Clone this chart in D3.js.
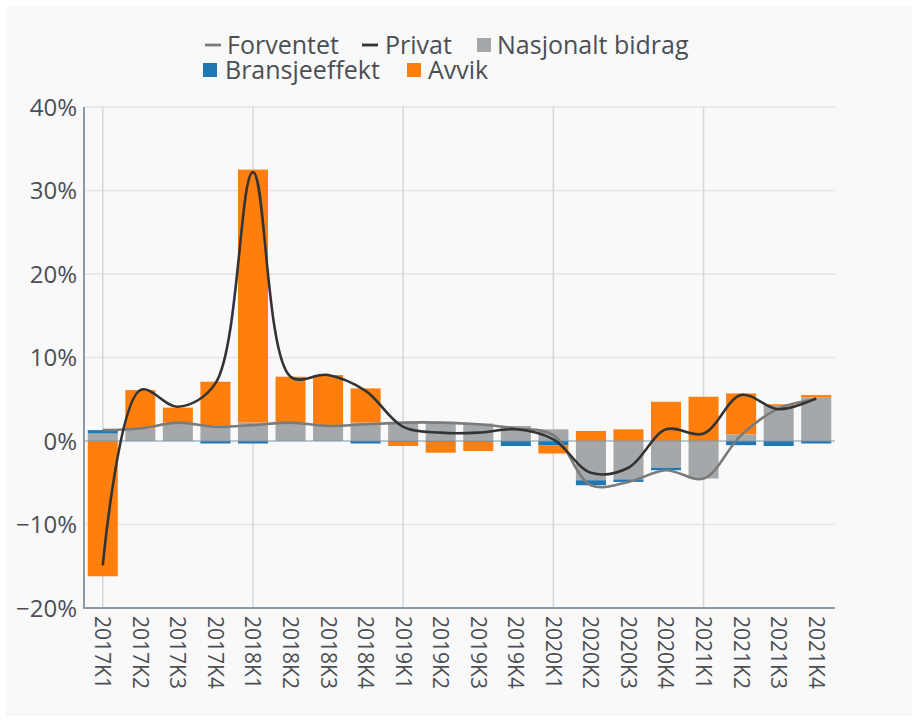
<!DOCTYPE html>
<html><head><meta charset="utf-8">
<script src="https://cdn.jsdelivr.net/npm/d3@7"></script>
<style>html,body{margin:0;padding:0;background:#fff;}svg{display:block;font-family:"Open Sans",sans-serif;}</style>
</head><body>
<svg id="c" width="918" height="722"></svg>
<script>
const categories = ["2017K1","2017K2","2017K3","2017K4","2018K1","2018K2","2018K3","2018K4","2019K1","2019K2","2019K3","2019K4","2020K1","2020K2","2020K3","2020K4","2021K1","2021K2","2021K3","2021K4"];
const nasjonalt = [0.9,1.5,2.2,1.9,2.2,2.2,1.8,2.2,2.2,2.2,2.1,1.8,1.4,-4.7,-4.6,-3.2,-4.5,0.8,4.2,5.2];
const bransje   = [0.4,0,0,-0.3,-0.3,0,0,-0.3,-0.1,-0.1,-0.1,-0.6,-0.5,-0.6,-0.3,-0.3,0,-0.5,-0.6,-0.3];
const avvik     = [-16.2,4.6,1.8,5.2,30.3,5.5,6.1,4.1,-0.5,-1.3,-1.1,0,-1.0,1.2,1.4,4.7,5.3,4.9,0.2,0.3];
const privat    = [-14.9,6.1,4.1,6.9,32.2,7.7,7.9,6.0,1.7,1.0,1.0,1.4,0.2,-3.8,-3.2,1.4,0.9,5.5,3.8,5.1];
const forventet = [1.3,1.5,2.2,1.7,1.9,2.2,1.8,2.0,2.2,2.2,2.0,1.5,0.7,-5.3,-4.9,-3.5,-4.5,0.7,3.9,5.0];
const yTicks = [-20,-10,0,10,20,30,40];

const svg = d3.select("#c");
svg.append("rect").attr("x",6).attr("y",6).attr("width",906).attr("height",710).attr("fill","#f9f9f9");

const L = 84, R = 835, T = 107, B = 608;
const x = d3.scaleBand().domain(categories).range([L, R]).paddingInner(0.2).paddingOuter(0.1);
const y = d3.scaleLinear().domain([-20, 40]).range([B, T]);
const textCol = "#4b4f54";

// gridlines
svg.append("g").selectAll("line").data(yTicks.filter(d=>d!==0 && d!==-20)).join("line")
  .attr("x1", L).attr("x2", R).attr("y1", d=>y(d)).attr("y2", d=>y(d))
  .attr("stroke", "#e1e5e7").attr("stroke-width", 1.5);
svg.append("g").selectAll("line").data(categories.filter((d,i)=>i%4===0)).join("line")
  .attr("x1", d=>x(d)+x.bandwidth()/2).attr("x2", d=>x(d)+x.bandwidth()/2)
  .attr("y1", T).attr("y2", B).attr("stroke", "#d4d8db").attr("stroke-width", 1.5);

// stacked bars (relative)
const series = [
  {name:"Nasjonalt bidrag", vals:nasjonalt, color:"#a5a8ab"},
  {name:"Bransjeeffekt", vals:bransje, color:"#1f77b4"},
  {name:"Avvik", vals:avvik, color:"#ff7f0e"}
];
const pos = categories.map(()=>0), neg = categories.map(()=>0);
const gBars = svg.append("g");
series.forEach(s => {
  const rects = [];
  s.vals.forEach((v,i) => {
    if (v === 0) return;
    let y0, y1;
    if (v > 0) { y0 = pos[i]; y1 = pos[i] + v; pos[i] = y1; }
    else { y0 = neg[i]; y1 = neg[i] + v; neg[i] = y1; }
    rects.push({c:categories[i], y0, y1});
  });
  gBars.selectAll(null).data(rects).join("rect")
    .attr("x", d=>x(d.c)).attr("width", x.bandwidth())
    .attr("y", d=>y(Math.max(d.y0,d.y1))).attr("height", d=>Math.abs(y(d.y0)-y(d.y1)))
    .attr("fill", s.color);
});

// zero line
svg.append("line").attr("x1", L).attr("x2", R).attr("y1", y(0)).attr("y2", y(0))
  .attr("stroke", "#7f96a6").attr("stroke-width", 1.2);

// lines
const line = d3.line().x((d,i)=>x(categories[i])+x.bandwidth()/2).y(d=>y(d)).curve(d3.curveCatmullRom.alpha(0.5));
svg.append("path").datum(forventet).attr("d", line).attr("fill","none").attr("stroke","#7b7b7b").attr("stroke-width",2.6);
svg.append("path").datum(privat).attr("d", line).attr("fill","none").attr("stroke","#333333").attr("stroke-width",2.6);

// axes
svg.append("line").attr("x1", L).attr("x2", L).attr("y1", T).attr("y2", B+1).attr("stroke","#8e9aa3").attr("stroke-width",2);
svg.append("line").attr("x1", L-1).attr("x2", R).attr("y1", B).attr("y2", B).attr("stroke","#8e9aa3").attr("stroke-width",2);

svg.append("g").selectAll("text").data(yTicks).join("text")
  .attr("x", 77).attr("y", d=>y(d)).attr("dy","0.36em").attr("text-anchor","end")
  .attr("font-size", 24).attr("fill", textCol)
  .text(d => (d<0 ? "\u2212" + Math.abs(d) : d) + "%");

svg.append("g").selectAll("text").data(categories).join("text")
  .attr("transform", d=>`translate(${x(d)+x.bandwidth()/2},616) rotate(90)`)
  .attr("dy","0.36em").attr("text-anchor","start")
  .attr("font-size", 21).attr("fill", textCol).text(d=>d);

// legend
const lg = svg.append("g").attr("font-size", 25).attr("fill", textCol);
const legendItems = [
  {t:"Forventet", type:"line", color:"#7b7b7b", x:205, tx:227, y:54},
  {t:"Privat", type:"line", color:"#333333", x:362, tx:385, y:54},
  {t:"Nasjonalt bidrag", type:"box", color:"#a5a8ab", x:477, tx:497, y:54},
  {t:"Bransjeeffekt", type:"box", color:"#1f77b4", x:203, tx:225, y:79},
  {t:"Avvik", type:"box", color:"#ff7f0e", x:407, tx:428, y:79}
];
legendItems.forEach(it => {
  const cy = it.y - 9;
  if (it.type === "line") {
    lg.append("line").attr("x1", it.x).attr("x2", it.x+16).attr("y1", cy).attr("y2", cy)
      .attr("stroke", it.color).attr("stroke-width", 2.8);
  } else {
    lg.append("rect").attr("x", it.x).attr("y", cy-7).attr("width", 14).attr("height", 14).attr("fill", it.color);
  }
  lg.append("text").attr("x", it.tx).attr("y", it.y).text(it.t);
});
</script>
</body></html>
